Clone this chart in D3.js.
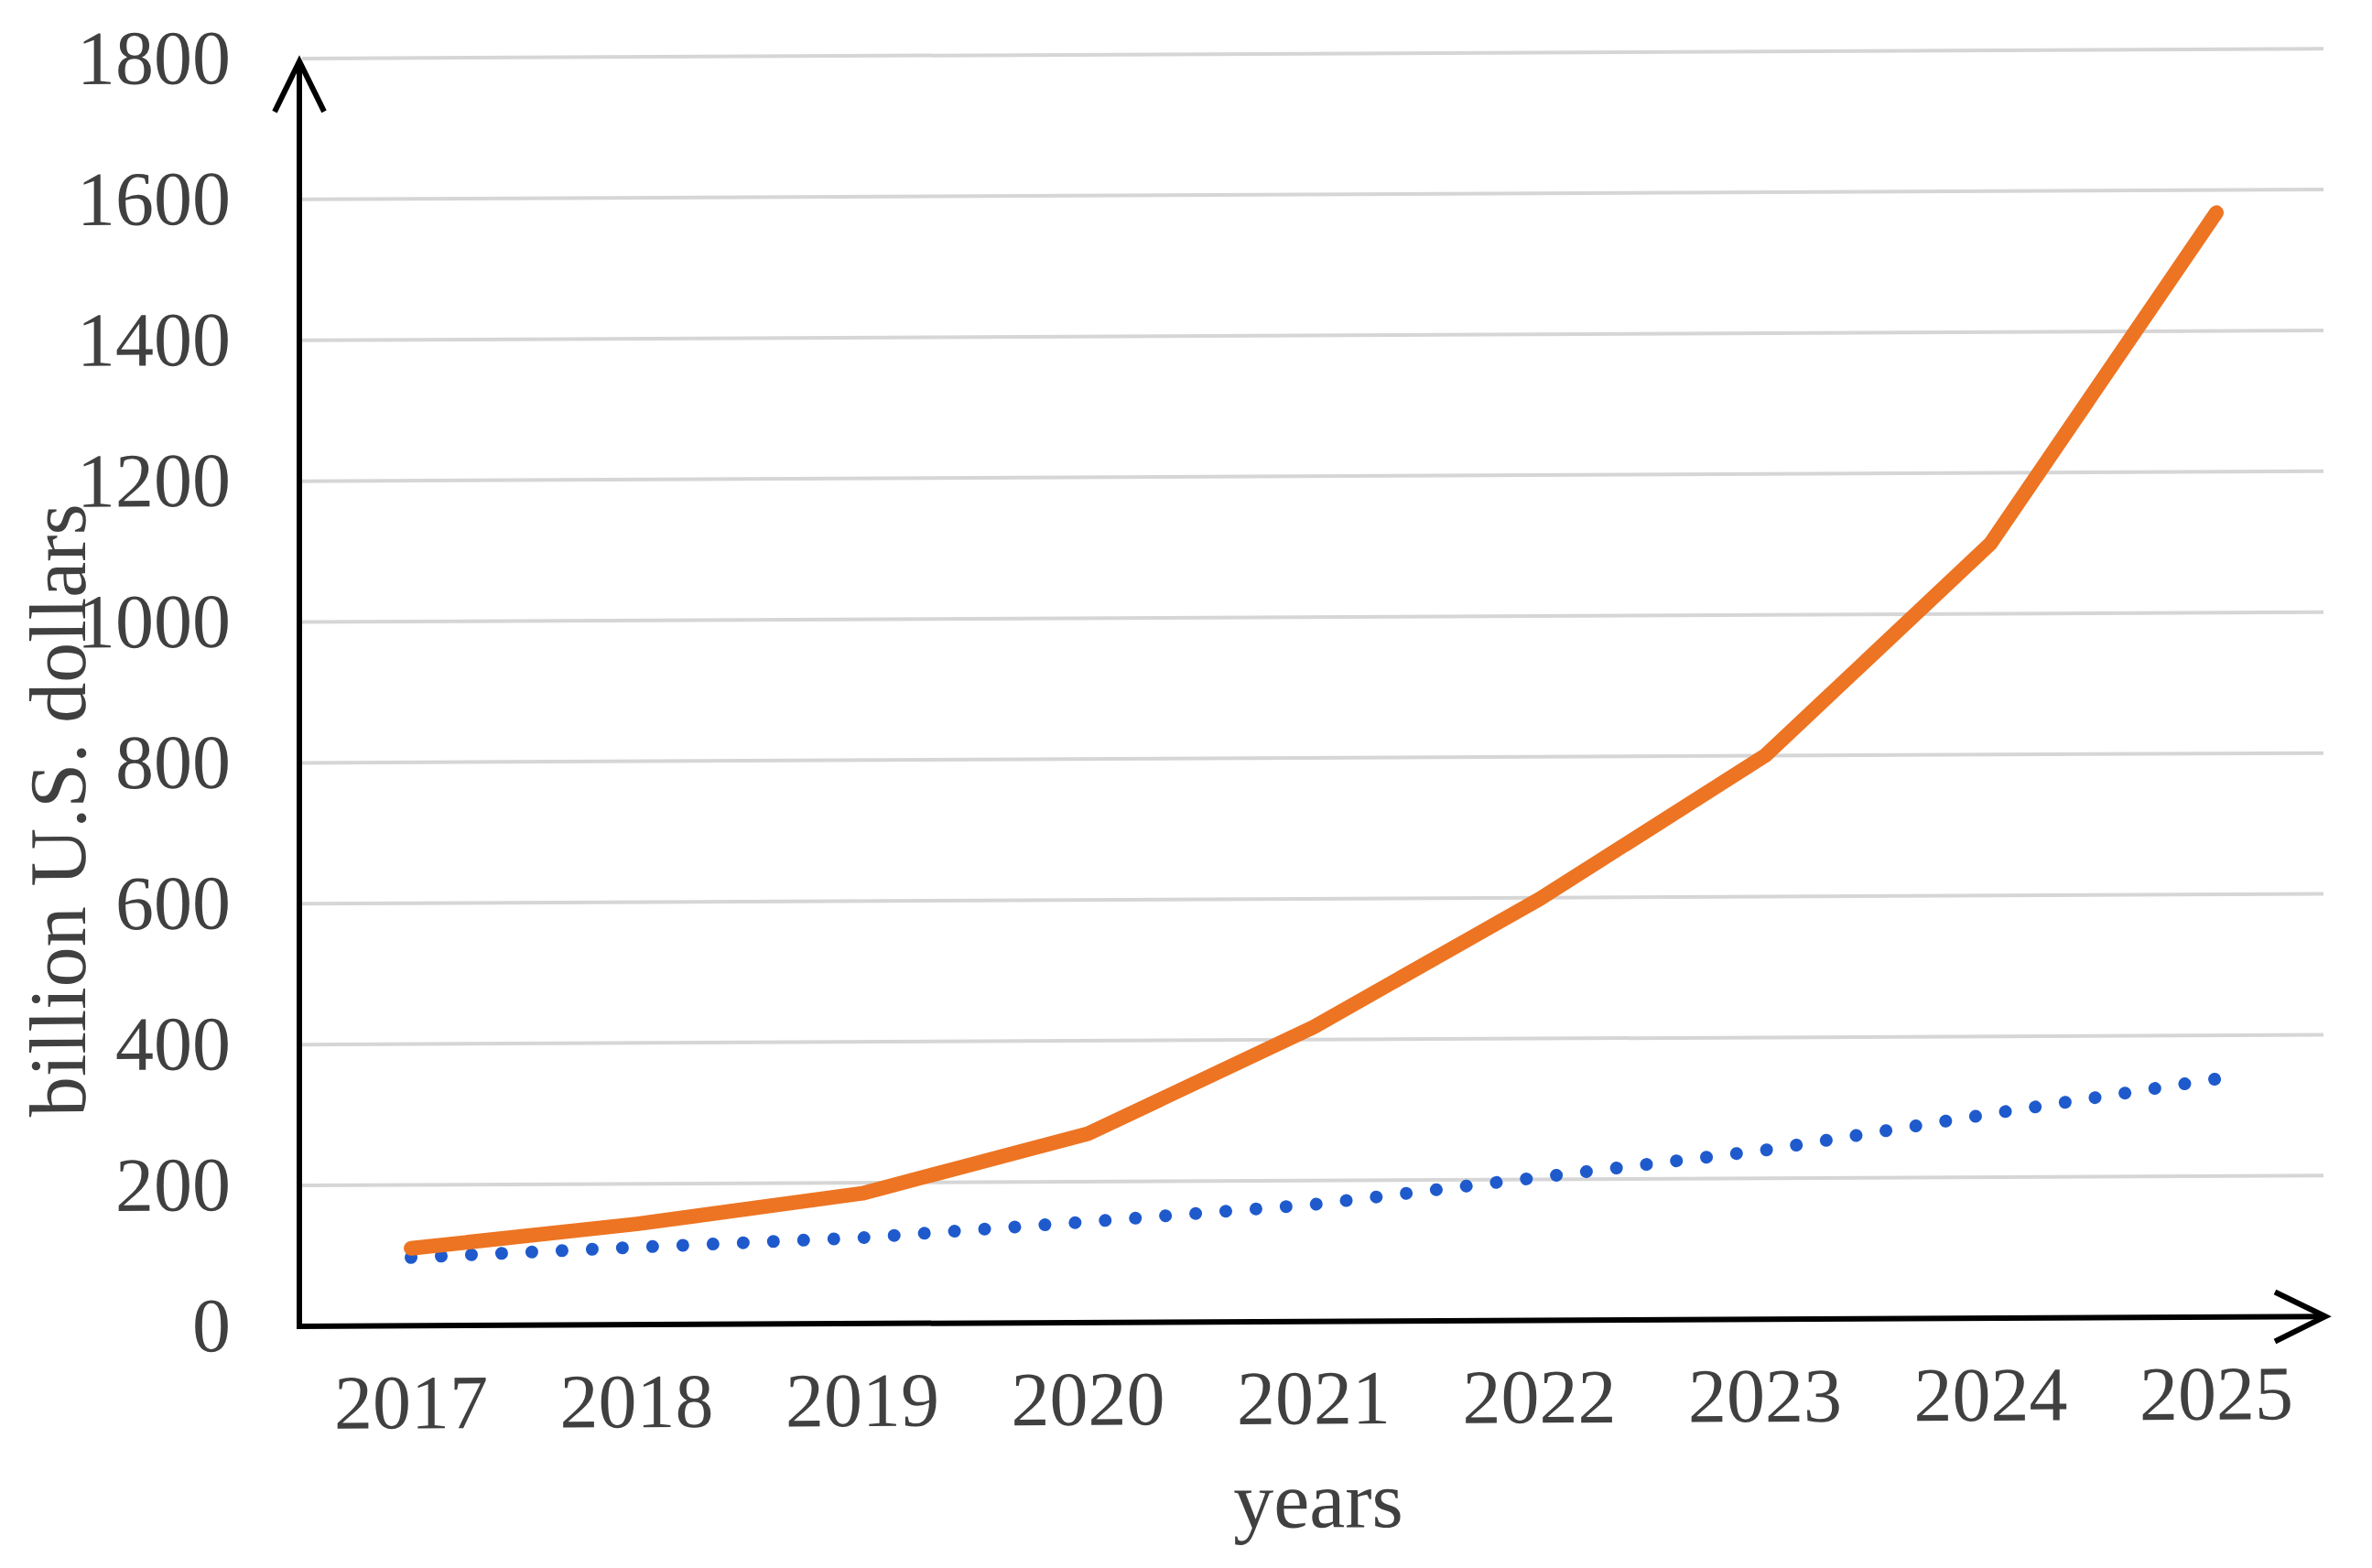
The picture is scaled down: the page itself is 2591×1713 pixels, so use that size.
<!DOCTYPE html>
<html>
<head>
<meta charset="utf-8">
<script src="https://cdn.jsdelivr.net/npm/d3@7"></script>
<style>
  html, body { margin: 0; padding: 0; background: #ffffff; }
  svg { display: block; }
</style>
</head>
<body>
<script>
// ---- data ----
const years = [2017, 2018, 2019, 2020, 2021, 2022, 2023, 2024, 2025];
const orangeSeries = [110, 143, 185, 268, 418, 598, 800, 1100, 1568];
const blueSeries = [97, 110, 122, 143, 166, 203, 240, 290, 338];
const yTickValues = [0, 200, 400, 600, 800, 1000, 1200, 1400, 1600, 1800];
const xTitle = "years";
const yTitle = "billion U.S. dollars";

// ---- layout ----
const W = 2591, H = 1713;
const originX = 327;
const xAxisEnd = 2540;
const gridEnd = 2538;

const x = d3.scalePoint().domain(years).range([449, 2421]);
const y = d3.scaleLinear().domain([0, 1800]).range([1449, 64]);

const svg = d3.select("body").append("svg")
  .attr("width", W).attr("height", H)
  .attr("viewBox", `0 0 ${W} ${H}`);

svg.append("rect").attr("width", W).attr("height", H).attr("fill", "#ffffff");

const oy = y(0);
const g = svg.append("g")
  .attr("transform", `translate(${originX}, ${oy}) skewY(-0.28) translate(${-originX}, ${-oy})`);

const textColor = "#404040";
const font = "'Liberation Serif', 'DejaVu Serif', serif";

// gridlines
g.append("g").selectAll("line")
  .data(yTickValues.filter(v => v > 0))
  .join("line")
  .attr("x1", originX + 3)
  .attr("x2", gridEnd)
  .attr("y1", d => y(d))
  .attr("y2", d => y(d))
  .attr("stroke", "#d6d6d6")
  .attr("stroke-width", 4);

// y tick labels
g.append("g").selectAll("text")
  .data(yTickValues)
  .join("text")
  .attr("x", 252)
  .attr("y", d => y(d))
  .attr("dy", "0.32em")
  .attr("text-anchor", "end")
  .attr("font-family", font)
  .attr("font-size", 84)
  .attr("fill", textColor)
  .text(d => d);

// x tick labels
g.append("g").selectAll("text")
  .data(years)
  .join("text")
  .attr("x", d => x(d))
  .attr("y", 1561)
  .attr("text-anchor", "middle")
  .attr("font-family", font)
  .attr("font-size", 84)
  .attr("fill", textColor)
  .text(d => d);

// axis titles
g.append("text")
  .attr("x", 1440)
  .attr("y", 1674)
  .attr("text-anchor", "middle")
  .attr("font-family", font)
  .attr("font-size", 88)
  .attr("fill", textColor)
  .text(xTitle);

g.append("text")
  .attr("transform", `translate(93, 884) rotate(-90)`)
  .attr("text-anchor", "middle")
  .attr("font-family", font)
  .attr("font-size", 88)
  .attr("fill", textColor)
  .text(yTitle);

// axes with arrows
const axisG = g.append("g")
  .attr("stroke", "#000000")
  .attr("stroke-width", 6)
  .attr("fill", "none");

const yTop = y(1800) + 3;
axisG.append("line")
  .attr("x1", originX).attr("y1", y(0) + 3)
  .attr("x2", originX).attr("y2", yTop);
axisG.append("polyline")
  .attr("points", `${originX - 27},${yTop + 55} ${originX},${yTop} ${originX + 27},${yTop + 55}`)
  .attr("stroke-linejoin", "miter");

axisG.append("line")
  .attr("x1", originX - 3).attr("y1", y(0))
  .attr("x2", xAxisEnd).attr("y2", y(0));
axisG.append("polyline")
  .attr("points", `${xAxisEnd - 55},${y(0) - 27} ${xAxisEnd},${y(0)} ${xAxisEnd - 55},${y(0) + 27}`)
  .attr("stroke-linejoin", "miter");

// series lines
const line = d3.line()
  .x((d, i) => x(years[i]))
  .y(d => y(d));

g.append("path")
  .datum(blueSeries)
  .attr("d", line)
  .attr("fill", "none")
  .attr("stroke", "#1f5acd")
  .attr("stroke-width", 14)
  .attr("stroke-linecap", "round")
  .attr("stroke-dasharray", "0.01 33");

g.append("path")
  .datum(orangeSeries)
  .attr("d", line)
  .attr("fill", "none")
  .attr("stroke", "#ed7422")
  .attr("stroke-width", 16)
  .attr("stroke-linecap", "round")
  .attr("stroke-linejoin", "round");
</script>
</body>
</html>
